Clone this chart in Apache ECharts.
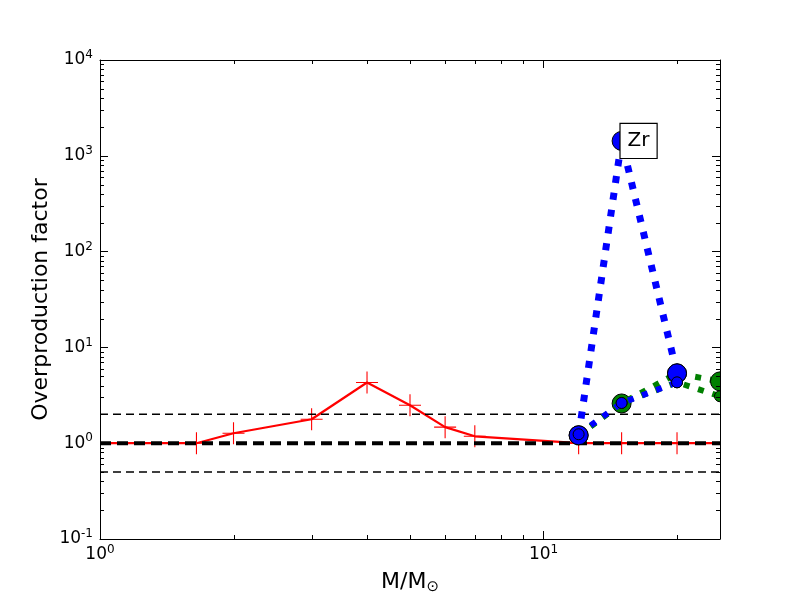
<!DOCTYPE html>
<html><head><meta charset="utf-8">
<script src="https://cdn.jsdelivr.net/npm/echarts@6/dist/echarts.min.js"></script>
<style>html,body{margin:0;padding:0;background:#fff}#c{width:800px;height:600px}</style>
</head><body><div id="c"></div>
<script>
// ---- data ----
const massesRed = [1, 1.65, 2, 3, 4, 5, 6, 7, 12, 15, 20, 25];
const valuesRed = [1.0, 1.0, 1.27, 1.78, 4.3, 2.49, 1.47, 1.18, 1.0, 1.0, 1.0, 1.0];
const massesBlue = [12, 15, 20];
const blueBig = [1.21, 1430, 5.36];
const blueSmall = [1.24, 2.63, 4.32];
const massesGreen = [12, 15, 20, 25];
const greenBig = [1.21, 2.6, 5.36, 4.42];
const greenSmall = [1.21, 2.63, 4.32, 3.09];
const refLevels = [0.5, 1, 2];
const xMinorTicks = [2, 3, 4, 5, 6, 7, 8, 9, 20];
const yMinorTicks = [0.2, 0.3, 0.4, 0.5, 0.6, 0.7, 0.8, 0.9,
  2, 3, 4, 5, 6, 7, 8, 9,
  20, 30, 40, 50, 60, 70, 80, 90,
  200, 300, 400, 500, 600, 700, 800, 900,
  2000, 3000, 4000, 5000, 6000, 7000, 8000, 9000];
const zrLabel = 'Zr';
const zrPoint = [15, 1430];
const xName = '{m|M/M}{sub|⊙}';
const yName = 'Overproduction factor';

const FONT = 'DejaVu Sans';
const X_MIN = 1, X_MAX = 25, Y_MIN = 0.1, Y_MAX = 10000;

function powLabel(v) {
  const e = Math.log10(v);
  const r = Math.round(e);
  if (Math.abs(e - r) > 1e-6) return '';
  return '{b|10}{sup|' + r + '}';
}
const labelRich = {
  b: {fontSize: 17, lineHeight: 22, fontFamily: FONT, color: '#000'},
  sup: {fontSize: 12, lineHeight: 12, verticalAlign: 'top', fontFamily: FONT, color: '#000'}
};
const axisLine = {show: true, onZero: false, lineStyle: {color: '#000', width: 1}};
const axisTick = {show: true, inside: true, length: 8, lineStyle: {color: '#000', width: 1}};

const crossPath = 'path://M9.5,0h1v20h-1z M0,9.5h20v1h-20z';

const redData = massesRed.map((m, i) => {
  const item = {value: [m, valuesRed[i]]};
  if (i === 0 || i === massesRed.length - 1) item.symbol = 'none';
  return item;
});

const refSeries = refLevels.map(l => ({
  type: 'line', silent: true, symbol: 'none', animation: false,
  data: [[X_MIN, l], [X_MAX, l]],
  lineStyle: l === 1 ? {color: '#000', width: 4, type: [11, 6]} : {color: '#000', width: 1.5, type: [8, 5]},
  z: 3
}));

function lineSeries(xs, ys, color, width, dash, z) {
  return {type: 'line', silent: true, symbol: 'none', data: xs.map((m, i) => [m, ys[i]]),
    lineStyle: {color, width, type: dash, cap: 'butt'}, z};
}
function markerSeries(xs, ys, r, color, z) {
  return {type: 'custom', silent: true, clip: true, z, xAxisIndex: 0, yAxisIndex: 0,
    data: xs.map((m, i) => [m, ys[i]]), encode: {x: 0, y: 1},
    renderItem(params, api) {
      const p = api.coord([api.value(0), api.value(1)]);
      return {type: 'circle', shape: {cx: p[0], cy: p[1], r},
        style: {fill: color, stroke: '#000', lineWidth: 1}};
    }};
}

const option = {
  animation: false,
  backgroundColor: '#fff',
  grid: {left: 100, right: 80, top: 60, bottom: 60, containLabel: false},
  xAxis: [
    {type: 'log', logBase: 10, min: X_MIN, max: X_MAX, position: 'bottom', gridIndex: 0,
     axisLine, axisTick, splitLine: {show: false}, minorTick: {show: false},
     axisLabel: {formatter: powLabel, rich: labelRich, margin: 5, color: '#000', showMinLabel: true, showMaxLabel: true},
     name: xName, nameLocation: 'middle', nameGap: 30,
     nameTextStyle: {fontSize: 22, fontFamily: FONT, color: '#000',
       rich: {m: {fontSize: 22, lineHeight: 26, fontFamily: FONT, color: '#000'},
              sub: {fontSize: 15, lineHeight: 12, verticalAlign: 'bottom', fontFamily: FONT, color: '#000'}}}
    },
    {type: 'log', logBase: 10, min: X_MIN, max: X_MAX, position: 'top', gridIndex: 0,
     axisLine, axisTick, splitLine: {show: false}, axisLabel: {show: false}}
  ],
  yAxis: [
    {type: 'log', logBase: 10, min: Y_MIN, max: Y_MAX, position: 'left', gridIndex: 0,
     axisLine, axisTick, splitLine: {show: false},
     axisLabel: {formatter: powLabel, rich: labelRich, margin: 7, color: '#000'},
     name: yName, nameLocation: 'middle', nameGap: 48, nameMoveOverlap: false,
     nameTextStyle: {fontSize: 22, fontFamily: FONT, color: '#000'}
    },
    {type: 'log', logBase: 10, min: Y_MIN, max: Y_MAX, position: 'right', gridIndex: 0,
     axisLine, axisTick, splitLine: {show: false}, axisLabel: {show: false}}
  ],
  series: [
    {type: 'line', name: 'red', data: redData, symbol: crossPath, symbolSize: 22, silent: true,
     lineStyle: {color: '#ff0000', width: 2.2}, itemStyle: {color: '#ff0000'}, z: 2},
    ...refSeries,
    lineSeries(massesGreen, greenBig, '#008000', 6, [6, 9], 4),
    markerSeries(massesGreen, greenBig, 9.5, '#008000', 5),
    lineSeries(massesGreen, greenSmall, '#008000', 6, [6, 9], 6),
    markerSeries(massesGreen, greenSmall, 5.5, '#008000', 7),
    lineSeries(massesBlue, blueBig, '#0000ff', 7, [7, 10], 8),
    markerSeries(massesBlue, blueBig, 9.5, '#0000ff', 9),
    lineSeries(massesBlue, blueSmall, '#0000ff', 6, [6, 9], 10),
    markerSeries(massesBlue, blueSmall, 5.5, '#0000ff', 11),
    {type: 'custom', name: 'minorTicks', silent: true, clip: false, z: 12,
     xAxisIndex: 0, yAxisIndex: 0,
     data: xMinorTicks.map(v => [v, 1, 0]).concat(yMinorTicks.map(v => [1, v, 1])),
     encode: {x: 0, y: 1},
     renderItem(params, api) {
       const cs = params.coordSys;
       const kind = api.value(2);
       const p = api.coord([api.value(0), api.value(1)]);
       const st = {stroke: '#000', lineWidth: 1};
       if (kind === 0) {
         const x = Math.round(p[0]) + 0.5;
         return {type: 'group', children: [
           {type: 'line', shape: {x1: x, y1: cs.y + cs.height, x2: x, y2: cs.y + cs.height - 4}, style: st},
           {type: 'line', shape: {x1: x, y1: cs.y, x2: x, y2: cs.y + 4}, style: st}
         ]};
       }
       const y = Math.round(p[1]) + 0.5;
       return {type: 'group', children: [
         {type: 'line', shape: {x1: cs.x, y1: y, x2: cs.x + 4, y2: y}, style: st},
         {type: 'line', shape: {x1: cs.x + cs.width, y1: y, x2: cs.x + cs.width - 4, y2: y}, style: st}
       ]};
     }
    },
    {type: 'custom', name: 'zrLabel', silent: true, clip: false, z: 13,
     xAxisIndex: 0, yAxisIndex: 0, data: [zrPoint], encode: {x: 0, y: 1},
     renderItem(params, api) {
       const p = api.coord([api.value(0), api.value(1)]);
       return {type: 'text', x: p[0] - 1, y: p[1],
         style: {text: zrLabel, fill: '#000', font: '20px "DejaVu Sans"', align: 'left', verticalAlign: 'middle',
           backgroundColor: '#fff', borderColor: '#000', borderWidth: 1.2, padding: [7, 7, 7, 7], lineHeight: 20}};
     }
    }
  ]
};
const chart = echarts.init(document.getElementById('c'), null, {renderer: 'canvas'});
chart.setOption(option);
</script></body></html>
